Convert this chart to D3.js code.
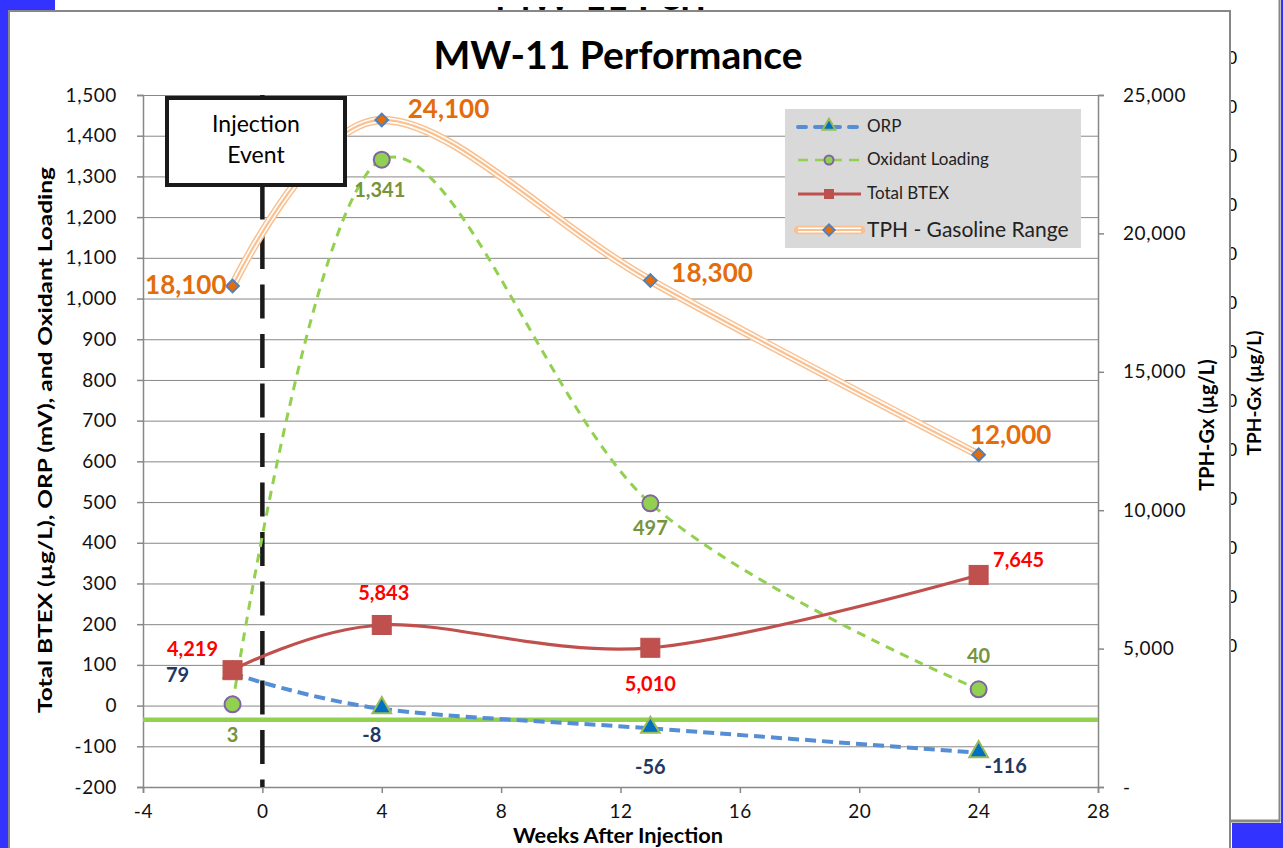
<!DOCTYPE html>
<html><head><meta charset="utf-8">
<script src="https://cdn.jsdelivr.net/npm/d3@7"></script>
<style>html,body{margin:0;padding:0;background:#fff;overflow:hidden}svg{display:block}text{font-family:Lato,"Open Sans",sans-serif}</style>
</head><body><svg id="c" width="1283" height="848"></svg>
<script>
// ---- data ----
const weeks = [-1, 4, 13, 24];
const orp = [79, -8, -56, -116];
const oxidant = [3, 1341, 497, 40];
const btex = [87, 198, 142, 321];
const btexLabels = ["4,219", "5,843", "5,010", "7,645"];
const tph = [18100, 24100, 18300, 12000];
const xTicks = [-4, 0, 4, 8, 12, 16, 20, 24, 28];
const leftTicks = d3.range(-200, 1501, 100);
const rightTicks = [0, 5000, 10000, 15000, 20000, 25000];
const refLevel = [-35];
const injectionWeek = [0];
const seriesNames = ["ORP", "Oxidant Loading", "Total BTEX", "TPH - Gasoline Range"];

// ---- layout ----
const svg = d3.select("#c");
const W = 1283, H = 848;
const x = d3.scaleLinear([-4, 28], [143, 1098]);
const yL = d3.scaleLinear([-200, 1500], [787, 95]);
const yR = d3.scaleLinear([0, 25000], [787, 95]);
const loc = d3.formatLocale({decimal: ".", thousands: ",", grouping: [3], currency: ["$", ""], minus: "-"});
const fmt = loc.format(",");
const curve = d3.curveCardinal.tension(0);
const BLUE = "#3333ff", GRID = "#878787";

// background (chart behind)
svg.append("rect").attr("width", W).attr("height", H).attr("fill", "#fff");
svg.append("defs").append("clipPath").attr("id", "tclip").append("rect").attr("x", 0).attr("y", 7).attr("width", W).attr("height", 3);
svg.append("text").attr("x", 495).attr("y", 10).attr("font-size", 38).attr("font-weight", 700)
  .attr("clip-path", "url(#tclip)").text("MW-11 Perf");
const bgTickY = d3.range(0, 13).map(i => 58 + i * 49);
svg.selectAll(".bgt").data(bgTickY).join("text").attr("x", 1237).attr("y", d => d + 6)
  .attr("text-anchor", "end").attr("font-size", 17).text("0");
svg.append("text").attr("transform", "translate(1261,393) rotate(-90)").attr("text-anchor", "middle")
  .attr("font-size", 19).attr("font-weight", 700).text("TPH-Gx (µg/L)");
svg.append("line").attr("x1", 1279.5).attr("x2", 1279.5).attr("y1", 0).attr("y2", 822).attr("stroke", GRID).attr("stroke-width", 2);
svg.append("line").attr("x1", 1231).attr("x2", 1280).attr("y1", 821).attr("y2", 821).attr("stroke", GRID).attr("stroke-width", 3);
svg.append("rect").attr("x", 1281).attr("y", 0).attr("width", 2).attr("height", H).attr("fill", BLUE);
svg.append("rect").attr("x", 1232).attr("y", 823).attr("width", 51).attr("height", 25).attr("fill", BLUE);
svg.append("rect").attr("x", 0).attr("y", 0).attr("width", 8).attr("height", H).attr("fill", BLUE);
svg.append("rect").attr("x", 0).attr("y", 0).attr("width", 55).attr("height", 10).attr("fill", BLUE);

// front chart frame
svg.append("rect").attr("x", 9).attr("y", 11).attr("width", 1221).attr("height", 860)
  .attr("fill", "#fff").attr("stroke", GRID).attr("stroke-width", 2);

// title
svg.append("text").attr("x", 618).attr("y", 69).attr("text-anchor", "middle").attr("font-size", 39)
  .attr("font-weight", 700).text("MW-11 Performance");

// gridlines
svg.append("g").selectAll("line").data(leftTicks).join("line")
  .attr("x1", x(-4)).attr("x2", x(28)).attr("y1", d => yL(d) + 0.5).attr("y2", d => yL(d) + 0.5)
  .attr("stroke", GRID).attr("stroke-width", 1);

// axes
const gL = svg.append("g").attr("transform", `translate(${x(-4)},0)`)
  .call(d3.axisLeft(yL).tickValues(leftTicks).tickFormat(fmt).tickSize(6).tickPadding(20));
const gR = svg.append("g").attr("transform", `translate(${x(28)},0)`)
  .call(d3.axisRight(yR).tickValues(rightTicks).tickFormat(d => d === 0 ? "-" : fmt(d)).tickSize(6).tickPadding(19));
const gX = svg.append("g").attr("transform", `translate(0,${yL(-200)})`)
  .call(d3.axisBottom(x).tickValues(xTicks).tickFormat(fmt).tickSize(6).tickPadding(12));
[gL, gR, gX].forEach(g => {
  g.selectAll("path,line").attr("stroke", GRID).attr("stroke-width", 1.5);
  g.selectAll("text").attr("font-size", 19).attr("letter-spacing", 0.6).attr("fill", "#111").attr("font-family", "Lato, sans-serif");
});
gR.selectAll("text").attr("text-anchor", "start");

// axis titles
svg.append("text").attr("transform", "translate(52,440) rotate(-90)").attr("text-anchor", "middle")
  .attr("font-size", 19).attr("font-weight", 700).attr("textLength", 546).attr("lengthAdjust", "spacingAndGlyphs")
  .text("Total BTEX (µg/L), ORP (mV), and Oxidant Loading");
svg.append("text").attr("transform", "translate(1214,425) rotate(-90)").attr("text-anchor", "middle")
  .attr("font-size", 20).attr("font-weight", 700).text("TPH-Gx (µg/L)");
svg.append("text").attr("x", 618).attr("y", 843).attr("text-anchor", "middle")
  .attr("font-size", 21).attr("font-weight", 700).attr("textLength", 210).attr("lengthAdjust", "spacingAndGlyphs")
  .text("Weeks After Injection");

// reference line
svg.selectAll(".ref").data(refLevel).join("line").attr("x1", x(-4)).attr("x2", x(28))
  .attr("y1", d => yL(d)).attr("y2", d => yL(d)).attr("stroke", "#92d050").attr("stroke-width", 4.5);

// injection line
svg.selectAll(".inj").data(injectionWeek).join("line").attr("x1", d => x(d)).attr("x2", d => x(d))
  .attr("y1", yL(1500)).attr("y2", yL(-200)).attr("stroke", "#1a1a1a").attr("stroke-width", 4.5)
  .attr("stroke-dasharray", "34,15.5").attr("stroke-dashoffset", 8.5);

const pts = arr => weeks.map((w, i) => [w, arr[i]]);
const lineL = d3.line().x(d => x(d[0])).y(d => yL(d[1])).curve(curve);
const lineR = d3.line().x(d => x(d[0])).y(d => yR(d[1])).curve(curve);

const sym = (type, size) => d3.symbol().type(type).size(size)();
function markers(arr, scale, draw) {
  const g = svg.append("g");
  weeks.forEach((w, i) => draw(g.append("g").attr("transform", `translate(${x(w)},${scale(arr[i])})`)));
}
const drawDiamond = (g, s) => g.append("rect").attr("x", -s / 2).attr("y", -s / 2).attr("width", s).attr("height", s)
  .attr("transform", "rotate(45)").attr("fill", "#e46c0a").attr("stroke", "#4f81bd").attr("stroke-width", 2);
const drawCircle = (g, r) => g.append("circle").attr("r", r).attr("fill", "#92d050").attr("stroke", "#8064a2").attr("stroke-width", 2);
const drawSquare = (g, s) => g.append("rect").attr("x", -s / 2).attr("y", -s / 2).attr("width", s).attr("height", s).attr("fill", "#c0504d").attr("stroke", "#b9514e");
const drawTri = (g, s) => g.append("path").attr("d", sym(d3.symbolTriangle, s)).attr("transform", "translate(0,-1)").attr("fill", "#0070c0").attr("stroke", "#9bbb59").attr("stroke-width", 2);

// ORP
svg.append("path").attr("d", lineL(pts(orp))).attr("fill", "none").attr("stroke", "#558ed5")
  .attr("stroke-width", 4).attr("stroke-dasharray", "11,6");
markers(orp, yL, g => drawTri(g, 150));
// Oxidant
svg.append("path").attr("d", lineL(pts(oxidant))).attr("fill", "none").attr("stroke", "#92d050")
  .attr("stroke-width", 3).attr("stroke-dasharray", "9,7");
markers(oxidant, yL, g => drawCircle(g, 8));
// BTEX
svg.append("path").attr("d", lineL(pts(btex))).attr("fill", "none").attr("stroke", "#c0504d").attr("stroke-width", 3.2);
markers(btex, yL, g => drawSquare(g, 19));
// TPH compound line
const tphPath = lineR(pts(tph));
svg.append("path").attr("d", tphPath).attr("fill", "none").attr("stroke", "#fac090").attr("stroke-width", 8.5);
svg.append("path").attr("d", tphPath).attr("fill", "none").attr("stroke", "#fff").attr("stroke-width", 5.5);
svg.append("path").attr("d", tphPath).attr("fill", "none").attr("stroke", "#fac090").attr("stroke-width", 2.2);
markers(tph, yR, g => drawDiamond(g, 9));

// injection box
svg.append("rect").attr("x", 167).attr("y", 98).attr("width", 178).attr("height", 87)
  .attr("fill", "#fff").attr("stroke", "#1a1a1a").attr("stroke-width", 4);
svg.append("text").attr("x", 256).attr("y", 132).attr("text-anchor", "middle").attr("font-size", 23).text("Injection");
svg.append("text").attr("x", 256).attr("y", 163).attr("text-anchor", "middle").attr("font-size", 23).text("Event");

// data labels
const tphOff = [[-6, 8, "end"], [26, -2, "start"], [21, 2, "start"], [32, -11, "middle"]];
const btexOff = [[-40, -14], [2, -25], [0, 43], [40, -8]];
const orpOff = [[-55, 9], [-10, 33], [0, 46], [27, 20]];
const oxOff = [[0, 38], [-2, 37], [0, 32], [0, -26]];
weeks.forEach((w, i) => {
  svg.append("text").attr("x", x(w) + tphOff[i][0]).attr("y", yR(tph[i]) + tphOff[i][1]).attr("text-anchor", tphOff[i][2])
    .attr("font-size", 26).attr("font-weight", 700).attr("fill", "#e46c0a").text(fmt(tph[i]));
  svg.append("text").attr("x", x(w) + btexOff[i][0]).attr("y", yL(btex[i]) + btexOff[i][1]).attr("text-anchor", "middle")
    .attr("font-size", 20).attr("font-weight", 700).attr("fill", "#ff0000").text(btexLabels[i]);
  svg.append("text").attr("x", x(w) + orpOff[i][0]).attr("y", yL(orp[i]) + orpOff[i][1]).attr("text-anchor", "middle")
    .attr("font-size", 20).attr("font-weight", 700).attr("fill", "#1f3864").text(fmt(orp[i]));
  svg.append("text").attr("x", x(w) + oxOff[i][0]).attr("y", yL(oxidant[i]) + oxOff[i][1]).attr("text-anchor", "middle")
    .attr("font-size", 20).attr("font-weight", 700).attr("fill", "#77933c").text(fmt(oxidant[i]));
});

// legend
const lg = svg.append("g");
lg.append("rect").attr("x", 785).attr("y", 109).attr("width", 296).attr("height", 139).attr("fill", "#d9d9d9");
const ly = [127, 160, 194, 230];
const lx1 = 798, lx2 = 861, lm = 829;
lg.append("line").attr("x1", lx1).attr("x2", lx2).attr("y1", ly[0]).attr("y2", ly[0]).attr("stroke", "#558ed5").attr("stroke-width", 4).attr("stroke-linecap", "round").attr("stroke-dasharray", "8,9");
drawTri(lg.append("g").attr("transform", `translate(${lm},${ly[0]})`), 70);
lg.append("line").attr("x1", lx1).attr("x2", lx2).attr("y1", ly[1]).attr("y2", ly[1]).attr("stroke", "#92d050").attr("stroke-width", 2.5).attr("stroke-dasharray", "10,7");
drawCircle(lg.append("g").attr("transform", `translate(${lm},${ly[1]})`), 4.5);
lg.append("line").attr("x1", lx1).attr("x2", lx2).attr("y1", ly[2]).attr("y2", ly[2]).attr("stroke", "#c0504d").attr("stroke-width", 3);
drawSquare(lg.append("g").attr("transform", `translate(${lm},${ly[2]})`), 9);
const lt = `M${lx1},${ly[3]}L${lx2},${ly[3]}`;
lg.append("path").attr("d", lt).attr("stroke", "#fac090").attr("stroke-width", 8.5).attr("stroke-linecap", "round");
lg.append("path").attr("d", lt).attr("stroke", "#fff").attr("stroke-width", 5);
lg.append("path").attr("d", lt).attr("stroke", "#fac090").attr("stroke-width", 2);
drawDiamond(lg.append("g").attr("transform", `translate(${lm},${ly[3]})`), 8);
lg.selectAll(".lt").data(seriesNames).join("text").attr("x", 867).attr("y", (d, i) => ly[i] + (i === 3 ? 7 : 5))
  .attr("font-size", (d, i) => i === 3 ? 21 : 17).attr("fill", "#222").text(d => d);
</script></body></html>
